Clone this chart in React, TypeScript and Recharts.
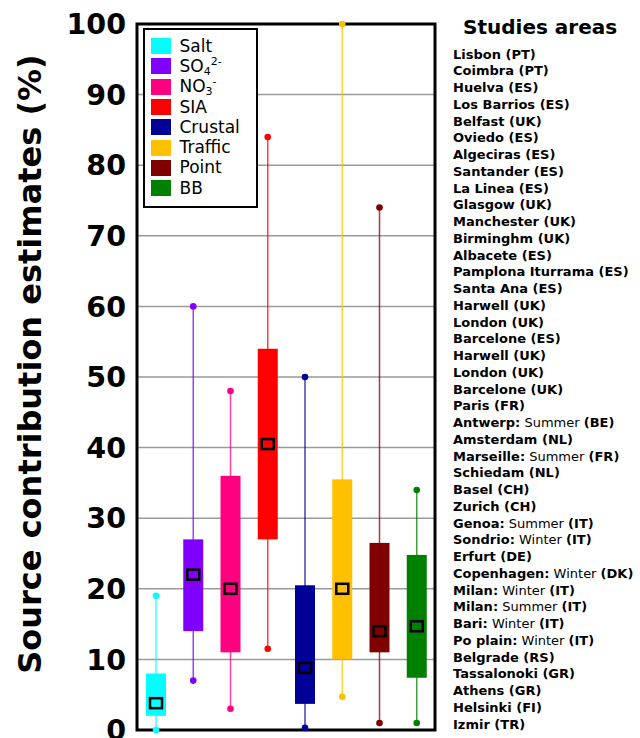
import React from 'react';
import { ComposedChart, Bar, XAxis, YAxis, CartesianGrid, ReferenceArea, Legend } from 'recharts';

// box statistics read per source (% contribution)
const sources = ['Salt', 'SO4', 'NO3', 'SIA', 'Crustal', 'Traffic', 'Point', 'BB'];
const colors = ['#00FFFF', '#8000FF', '#FF0080', '#FF0000', '#000099', '#FFC000', '#800000', '#008000'];
const minVals = [0, 7, 3, 11.5, 0.3, 4.7, 1, 1];
const q1Vals = [2, 14, 11, 27, 3.7, 10, 11, 7.4];
const q3Vals = [8, 27, 36, 54, 20.5, 35.5, 26.5, 24.8];
const maxVals = [19, 60, 48, 84, 50, 100, 74, 34];
const meanVals = [3.8, 22, 20, 40.5, 8.8, 20, 14, 14.7];

const yTicks = [0, 10, 20, 30, 40, 50, 60, 70, 80, 90, 100];

// legend labels: base text, subscript, superscript
const legendBase = ['Salt', 'SO', 'NO', 'SIA', 'Crustal', 'Traffic', 'Point', 'BB'];
const legendSub = ['', '4', '3', '', '', '', '', ''];
const legendSup = ['', '2-', '-', '', '', '', '', ''];

// study areas: city, optional season, country
const areaCity = [
  'Lisbon', 'Coimbra', 'Huelva', 'Los Barrios', 'Belfast', 'Oviedo', 'Algeciras', 'Santander', 'La Linea',
  'Glasgow', 'Manchester', 'Birminghm', 'Albacete', 'Pamplona Iturrama', 'Santa Ana', 'Harwell', 'London',
  'Barcelone', 'Harwell', 'London', 'Barcelone', 'Paris', 'Antwerp', 'Amsterdam', 'Marseille', 'Schiedam',
  'Basel', 'Zurich', 'Genoa', 'Sondrio', 'Erfurt', 'Copenhagen', 'Milan', 'Milan', 'Bari', 'Po plain',
  'Belgrade', 'Tassalonoki', 'Athens', 'Helsinki', 'Izmir',
];
const areaSeason = [
  '', '', '', '', '', '', '', '', '', '', '', '', '', '', '', '', '', '', '', '', '', '',
  'Summer', '', 'Summer', '', '', '', 'Summer', 'Winter', '', 'Winter', 'Winter', 'Summer', 'Winter', 'Winter',
  '', '', '', '', '',
];
const areaCountry = [
  'PT', 'PT', 'ES', 'ES', 'UK', 'ES', 'ES', 'ES', 'ES', 'UK', 'UK', 'UK', 'ES', 'ES', 'ES', 'UK', 'UK', 'ES',
  'UK', 'UK', 'UK', 'FR', 'BE', 'NL', 'FR', 'NL', 'CH', 'CH', 'IT', 'IT', 'DE', 'DK', 'IT', 'IT', 'IT', 'IT',
  'RS', 'GR', 'GR', 'FI', 'TR',
];

const data = sources.map((name, i) => ({
  name,
  range: [minVals[i], maxVals[i]],
  min: minVals[i],
  q1: q1Vals[i],
  q3: q3Vals[i],
  max: maxVals[i],
  mean: meanVals[i],
  color: colors[i],
}));

const FONT = '"DejaVu Sans", Verdana, sans-serif';

const BoxShape = (props: any) => {
  const { x, y, width, height, payload } = props;
  const { min, max, q1, q3, mean, color } = payload;
  const top = y;
  const bottom = y + height;
  const toY = (v: number) => bottom - ((v - min) / (max - min)) * (bottom - top);
  const cx = x + width / 2;
  return (
    <g>
      <line x1={cx} x2={cx} y1={toY(max)} y2={toY(min)} stroke={color} strokeOpacity={0.75} strokeWidth={1.5} />
      <circle cx={cx} cy={toY(max)} r={3.3} fill={color} />
      <circle cx={cx} cy={toY(min)} r={3.3} fill={color} />
      <rect x={x} y={toY(q3)} width={width} height={toY(q1) - toY(q3)} fill={color} />
      <rect x={cx - 6} y={toY(mean) - 5} width={12} height={10} fill={color} stroke="#000" strokeWidth={2.5} />
    </g>
  );
};

const AxisTitle = (props: any) => {
  const { viewBox } = props;
  const tx = viewBox.x + 30;
  const ty = viewBox.y + viewBox.height / 2 - 13;
  return (
    <text
      x={tx}
      y={ty}
      transform={`rotate(-90 ${tx} ${ty})`}
      textAnchor="middle"
      dominantBaseline="central"
      fontFamily={FONT}
      fontWeight="bold"
      fontSize={32}
      fill="#000"
    >
      Source contribution estimates (%)
    </text>
  );
};

const LegendBox = () => (
  <div
    style={{
      boxSizing: 'border-box',
      width: 115,
      height: 180,
      border: '2.5px solid #000',
      background: '#fff',
      padding: '6px 0 0 5.5px',
      fontFamily: FONT,
      fontSize: 17,
      color: '#000',
    }}
  >
    {legendBase.map((label, i) => (
      <div key={i} style={{ display: 'flex', alignItems: 'center', height: 20.3 }}>
        <span style={{ width: 20, height: 16, background: colors[i], marginRight: 9, flex: 'none' }} />
        <span style={{ lineHeight: '17px', whiteSpace: 'nowrap' }}>
          {label}
          {legendSub[i] && <sub style={{ fontSize: 11, lineHeight: 0, verticalAlign: '-3px' }}>{legendSub[i]}</sub>}
          {legendSup[i] && <sup style={{ fontSize: 11, lineHeight: 0, verticalAlign: '7px' }}>{legendSup[i]}</sup>}
        </span>
      </div>
    ))}
  </div>
);

export default function App() {
  return (
    <div style={{ position: 'absolute', left: 0, top: 0, width: 640, height: 738, background: '#fff' }}>
      <ComposedChart
        width={640}
        height={738}
        data={data}
        margin={{ top: 24, right: 205, bottom: 8, left: 0 }}
        barCategoryGap={0}
      >
        <CartesianGrid vertical={false} stroke="#9a9a9a" strokeWidth={1.5} />
        <XAxis dataKey="name" hide />
        <YAxis
          width={137}
          domain={[0, 100]}
          ticks={yTicks}
          interval={0}
          axisLine={false}
          tickLine={false}
          tickSize={0}
          tickMargin={11}
          tick={{ fill: '#000', fontFamily: FONT, fontWeight: 'bold', fontSize: 28.5 }}
          label={<AxisTitle />}
        />
        <ReferenceArea y1={0} y2={100} fill="none" stroke="#000" strokeWidth={3} ifOverflow="visible" />
        <Bar dataKey="range" barSize={20} shape={<BoxShape />} isAnimationActive={false} />
        <Legend
          layout="vertical"
          align="center"
          verticalAlign="middle"
          content={<LegendBox />}
          wrapperStyle={{ left: 143, top: 28, width: 115, height: 180 }}
        />
      </ComposedChart>
      <div
        style={{
          position: 'absolute',
          left: 463,
          top: 14,
          fontFamily: FONT,
          fontWeight: 'bold',
          fontSize: 20,
          lineHeight: '26px',
          color: '#000',
          whiteSpace: 'nowrap',
        }}
      >
        Studies areas
      </div>
      <div
        style={{
          position: 'absolute',
          left: 453,
          top: 46.6,
          fontFamily: FONT,
          fontSize: 13,
          lineHeight: '16.75px',
          color: '#000',
          whiteSpace: 'nowrap',
        }}
      >
        {areaCity.map((city, i) => (
          <div key={i}>
            {areaSeason[i] ? (
              <>
                <b>{city}:</b> {areaSeason[i]} <b>({areaCountry[i]})</b>
              </>
            ) : (
              <b>
                {city} ({areaCountry[i]})
              </b>
            )}
          </div>
        ))}
      </div>
    </div>
  );
}
